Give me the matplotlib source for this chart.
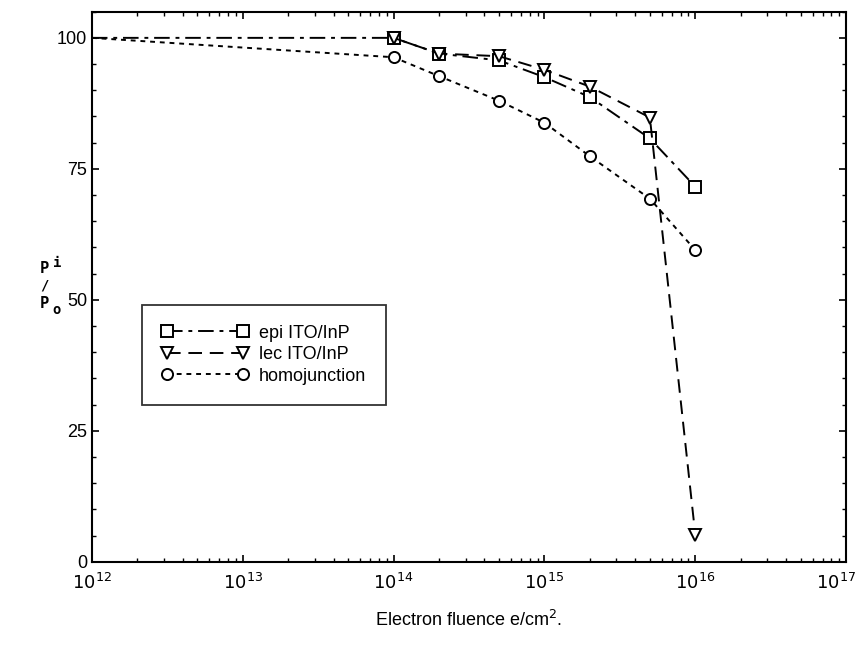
import numpy as np
import matplotlib.pyplot as plt
import matplotlib.transforms as mtransforms
from matplotlib.ticker import MultipleLocator, LogLocator, NullFormatter

plt.rcParams['font.family'] = ['Liberation Sans', 'DejaVu Sans']

# fluence values (e/cm^2)
epi_x = [1e12, 1e14, 2e14, 5e14, 1e15, 2e15, 5e15, 1e16]
epi_y = [100, 100, 97, 95.7, 92.5, 88.7, 80.8, 71.6]

lec_x = [1e14, 2e14, 5e14, 1e15, 2e15, 5e15, 1e16]
lec_y = [100, 97, 96.5, 93.9, 90.7, 84.8, 5.2]

homo_x = [1e12, 1e14, 2e14, 5e14, 1e15, 2e15, 5e15, 1e16]
homo_y = [100, 96.3, 92.7, 88.0, 83.8, 77.4, 69.3, 59.5]

labels = ['epi ITO/InP', 'lec ITO/InP', 'homojunction']
xticks = [1e12, 1e13, 1e14, 1e15, 1e16, 1e17]
xticklabels = ['$10^{12}$', '$10^{13}$', '$10^{14}$', '$10^{15}$', '$10^{16}$', '$10^{17}$']

fig = plt.figure(figsize=(8.59, 6.48), dpi=100)
ax = fig.add_axes([0.107, 0.133, 0.878, 0.849])

mk = dict(markersize=8, markerfacecolor='white', markeredgecolor='black',
          markeredgewidth=1.4, color='black', linewidth=1.4)

ax.plot(epi_x, epi_y, linestyle=(0, (8, 3, 2, 3)), marker='s',
        markevery=list(range(1, len(epi_x))), label=labels[0], **mk)
ax.plot(lec_x, lec_y, linestyle=(0, (7, 4)), marker='v',
        label=labels[1], **mk)
ax.plot(homo_x, homo_y, linestyle=(0, (2.5, 2.5)), marker='o',
        markevery=list(range(1, len(homo_x))), label=labels[2], **mk)

ax.set_xscale('log')
ax.set_xlim(1e12, 1e17)
ax.set_ylim(0, 105)
ax.set_xticks(xticks, xticklabels)
ax.yaxis.set_major_locator(MultipleLocator(25))
ax.yaxis.set_minor_locator(MultipleLocator(5))
ax.xaxis.set_minor_locator(LogLocator(base=10, subs=np.arange(2, 10), numticks=20))
ax.xaxis.set_minor_formatter(NullFormatter())

ax.tick_params(which='both', direction='in', top=True, right=True, labelsize=13)
ax.tick_params(which='major', length=5, width=1.2)
ax.tick_params(which='minor', length=3, width=1)
ax.tick_params(axis='x', pad=8)
for s in ax.spines.values():
    s.set_linewidth(1.5)

# pull the last x label inside the figure
last = ax.xaxis.get_major_ticks()[-1].label1
last.set_transform(last.get_transform() + mtransforms.ScaledTranslation(-7 / 72, 0, fig.dpi_scale_trans))

ax.set_xlabel('Electron fluence e/cm$^2$.', fontsize=13, labelpad=12)

# stacked P_i / P_o label
fig.text(0.052, 0.578, 'P', family='DejaVu Sans Mono', fontsize=11, weight='bold', ha='center')
fig.text(0.066, 0.588, 'i', family='DejaVu Sans Mono', fontsize=10, weight='bold', ha='center')
fig.text(0.052, 0.553, '/', family='DejaVu Sans Mono', fontsize=10, weight='bold', ha='center')
fig.text(0.052, 0.525, 'P', family='DejaVu Sans Mono', fontsize=11, weight='bold', ha='center')
fig.text(0.066, 0.515, 'o', family='DejaVu Sans Mono', fontsize=10, weight='bold', ha='center')

leg = ax.legend(loc='upper left', bbox_to_anchor=(0.066, 0.467), numpoints=2,
                fontsize=13, frameon=True, fancybox=False, edgecolor='black',
                handlelength=4.8, handletextpad=0.6, labelspacing=0.25,
                borderpad=1.1, borderaxespad=0)
leg.get_frame().set_linewidth(1.3)

fig.savefig('out.png', dpi=100)
